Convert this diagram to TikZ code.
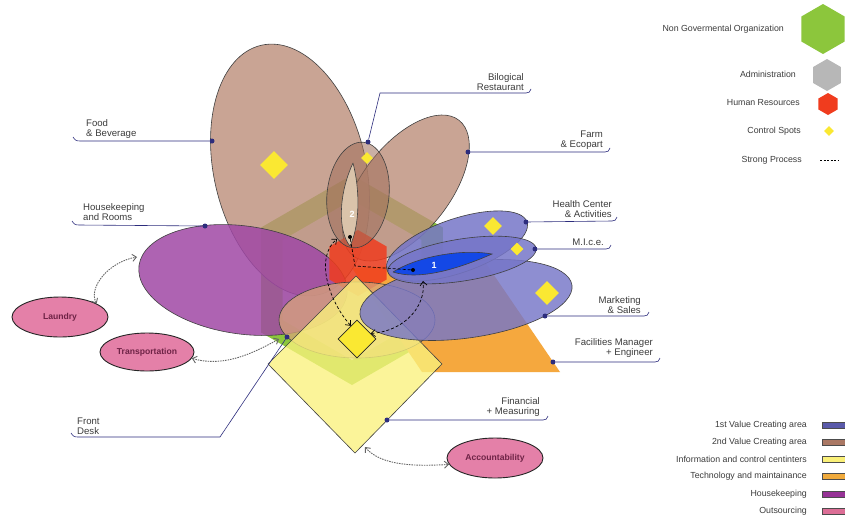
\documentclass[tikz,border=0pt]{standalone}
\usepackage{fontspec}
\setmainfont{Liberation Sans}
\usetikzlibrary{shapes.geometric,arrows.meta}
\definecolor{brownA}{RGB}{188,142,122}
\definecolor{brownB}{RGB}{160,110,90}
\definecolor{deskC}{RGB}{215,165,120}
\definecolor{ngo}{RGB}{140,198,60}
\definecolor{adm}{RGB}{215,215,215}
\definecolor{hr}{RGB}{240,60,30}
\definecolor{purp}{RGB}{160,72,165}
\definecolor{blueA}{RGB}{118,118,200}
\definecolor{lensblue}{RGB}{20,72,230}
\definecolor{lensbeige}{RGB}{218,195,170}
\definecolor{orng}{RGB}{245,168,62}
\definecolor{ylw}{RGB}{250,242,125}
\definecolor{spot}{RGB}{250,232,50}
\definecolor{pnk}{RGB}{228,128,168}
\definecolor{navy}{RGB}{45,45,125}
\definecolor{txt}{RGB}{60,60,60}
\definecolor{pinktxt}{RGB}{110,35,70}
\definecolor{swA}{RGB}{90,90,170}
\definecolor{swB}{RGB}{170,120,100}
\definecolor{swC}{RGB}{250,240,120}
\definecolor{swD}{RGB}{240,170,60}
\definecolor{swE}{RGB}{150,50,150}
\definecolor{swF}{RGB}{220,110,150}
\begin{document}
\begin{tikzpicture}[x=1pt,y=-1pt,
  outline/.style={draw=black!75, line width=0.6pt},
  leader/.style={draw=navy, line width=0.6pt},
  bdot/.style={circle, fill=navy, inner sep=0pt, minimum size=5pt},
  kdot/.style={circle, fill=black, inner sep=0pt, minimum size=4pt},
  lbl/.style={text=txt, font=\fontsize{9.6}{10}\selectfont, inner sep=0pt},
  lgd/.style={text=txt, font=\fontsize{8.8}{9}\selectfont, inner sep=0pt, anchor=east},
  spotd/.style={diamond, fill=spot, inner sep=0pt, aspect=1},
  outs/.style={ellipse, draw=black!85, line width=0.9pt, fill=pnk, inner sep=0pt, text=pinktxt, font=\fontsize{8.6}{9}\selectfont\bfseries},
  procarrow/.style={draw=black, line width=0.7pt, dash pattern=on 3pt off 2pt},
  linkarrow/.style={draw=black!60, line width=0.9pt, dash pattern=on 1.5pt off 1pt},
  barb/.style={{Straight Barb[length=4pt,width=7pt]}-{Straight Barb[length=4pt,width=7pt]}},
  swatch/.style={draw=black!70, line width=0.5pt, minimum width=24pt, minimum height=6pt, inner sep=0pt, anchor=west},
  numlbl/.style={text=white, font=\fontsize{9}{9}\selectfont\bfseries, inner sep=0pt}
]
\useasboundingbox (0,0) rectangle (845,520);
\fill[white] (0,0) rectangle (845,520);

% hexagons and sectors behind
\fill[ngo] (352,280) +(90:105) -- +(30:105) -- +(-30:105) -- +(-90:105) -- +(-150:105) -- +(150:105) -- cycle;
\fill[adm] (352,280) +(90:80) -- +(30:80) -- +(-30:80) -- +(-90:80) -- +(-150:80) -- +(150:80) -- cycle;
\fill[orng] (352,268) -- (485,262) -- (560,372) -- (422,372) -- cycle;

% 2nd value creating
\draw[outline, fill=brownA, fill opacity=.8, rotate around={13:(290,170)}] (290,170) ellipse [x radius=76, y radius=128];
% housekeeping
\draw[outline, fill=purp, fill opacity=.85, rotate around={-8:(243,280)}] (243,280) ellipse [x radius=105, y radius=54];
\draw[outline, fill=brownA, fill opacity=.8, rotate around={52:(406,188)}] (406,188) ellipse [x radius=86, y radius=44];
% human resources
\fill[hr, fill opacity=.85] (358,263) +(90:33) -- +(30:33) -- +(-30:33) -- +(-90:33) -- +(-150:33) -- +(150:33) -- cycle;
\draw[outline, fill=brownB, fill opacity=.55, rotate around={-6:(358,195)}] (358,195) ellipse [x radius=31, y radius=53];
\draw[outline, fill=lensbeige] (353,163) .. controls (338,195) and (338,232) .. (350,246) .. controls (360,225) and (360,190) .. (353,163);
% front desk
\draw[outline, fill=deskC, fill opacity=.75] (357,320) ellipse [x radius=78, y radius=38];
% financial diamond
\draw[outline, fill=ylw, fill opacity=.78] (356,276) -- (442,364) -- (355,453) -- (268,364) -- cycle;
% 1st value creating
\draw[outline, fill=blueA, fill opacity=.82, rotate around={8:(466,300)}] (466,300) ellipse [x radius=107, y radius=38];
\draw[outline, fill=blueA, fill opacity=.85, rotate around={19:(457,246)}] (457,246) ellipse [x radius=74, y radius=27];
\draw[outline, fill=blueA, fill opacity=.85, rotate around={9:(462,260)}] (462,260) ellipse [x radius=75, y radius=21];
\draw[outline, fill=lensblue] (393,272) .. controls (420,255) and (465,249) .. (492,254) .. controls (460,268) and (420,281) .. (393,272);

% control spots
\node[spotd, minimum size=28pt] (s1) at (274,165) {};
\node[spotd, minimum size=12pt] (s2) at (367,158) {};
\node[spotd, minimum size=18pt] (s3) at (493,226) {};
\node[spotd, minimum size=13pt] (s4) at (517,249) {};
\node[spotd, minimum size=24pt] (s5) at (547,293) {};
\node[spotd, draw=black!85, line width=0.8pt, minimum size=38pt] (cspot) at (357,339) {};

% lens labels and dots
\node[numlbl] (n2) at (352,214) {2};
\node[numlbl] (n1) at (434,265) {1};
\node[kdot] (dot2) at (350,237) {};
\node[kdot] (dot1) at (413,270) {};

% strong process
\coordinate (p1end) at (337,239);
\coordinate (p2end) at (423,281);
\coordinate (p3c) at (355,266);
\draw[procarrow, barb] (cspot.115) .. controls (328,300) and (315,257) .. (p1end);
\draw[procarrow, barb] (cspot.22) .. controls (405,331) and (426,306) .. (p2end);
\draw[procarrow] (dot2) -- (p3c) -- (dot1);

% outsourcing
\node[outs, minimum width=96pt, minimum height=40pt] (laundry) at (60,317) {Laundry};
\node[outs, minimum width=94pt, minimum height=38pt] (transp) at (147,352) {Transportation};
\node[outs, minimum width=96pt, minimum height=40pt] (acct) at (495,458) {Accountability};
\coordinate (hkend) at (137,257);
\coordinate (fdend) at (279,339);
\coordinate (finend) at (365,447);
\draw[linkarrow, barb] (laundry.20) .. controls (88,288) and (108,262) .. (hkend);
\draw[linkarrow, barb] (transp.-8) .. controls (225,368) and (255,352) .. (fdend);
\draw[linkarrow, barb] (finend) .. controls (382,467) and (420,466) .. (acct.188);

% leader dots
\node[bdot] (dFB) at (212,141) {};
\node[bdot] (dHK) at (205,226) {};
\node[bdot] (dBio) at (368,142) {};
\node[bdot] (dFarm) at (468,152) {};
\node[bdot] (dHealth) at (526,222) {};
\node[bdot] (dMice) at (535,249) {};
\node[bdot] (dMkt) at (545,316) {};
\node[bdot] (dFac) at (553,362) {};
\node[bdot] (dFin) at (387,420) {};
\node[bdot] (dFD) at (287,337) {};

% leaders
\draw[leader] (dFB) -- (80,141) .. controls (76,141) and (75,140) .. (73,137);
\draw[leader] (dHK) -- (79,225) .. controls (75,225) and (74,224) .. (72,221);
\draw[leader] (dBio) -- (380,93) -- (526,93) .. controls (529,93) and (530,92) .. (531,89);
\draw[leader] (dFarm) -- (605,152) .. controls (608,152) and (609,151) .. (610,148);
\draw[leader] (dHealth) -- (612,221) .. controls (615,221) and (616,220) .. (617,217);
\draw[leader] (dMice) -- (606,249) .. controls (609,249) and (610,248) .. (611,245);
\draw[leader] (dMkt) -- (644,316) .. controls (647,316) and (648,315) .. (649,312);
\draw[leader] (dFac) -- (655,362) .. controls (658,362) and (659,361) .. (660,358);
\draw[leader] (dFin) -- (543,420) .. controls (546,420) and (547,419) .. (548,416);
\draw[leader] (dFD) -- (220,437) -- (78,437) .. controls (74,437) and (73,436) .. (71,433);

% labels
\node[lbl, align=left, anchor=south west] (tFB) at (86,139) {Food\\\& Beverage};
\node[lbl, align=left, anchor=south west] (tHK) at (83,221) {Housekeeping\\and Rooms};
\node[lbl, align=right, anchor=south east] (tBio) at (524,91) {Bilogical\\Restaurant};
\node[lbl, align=right, anchor=south east] (tFarm) at (603,150) {Farm\\\& Ecopart};
\node[lbl, align=right, anchor=south east] (tHealth) at (612,218) {Health Center\\\& Activities};
\node[lbl, align=right, anchor=south east] (tMice) at (604,246) {M.I.c.e.};
\node[lbl, align=right, anchor=south east] (tMkt) at (641,314) {Marketing\\\& Sales};
\node[lbl, align=right, anchor=south east] (tFac) at (653,358) {Facilities Manager\\+ Engineer};
\node[lbl, align=right, anchor=south east] (tFin) at (540,417) {Financial\\+ Measuring};
\node[lbl, align=left, anchor=south west] (tFD) at (77,435) {Front\\Desk};

% top legend
\node[lgd] (lNGO) at (784,29) {Non Govermental Organization};
\fill[ngo] (823,29) +(90:25) -- +(30:25) -- +(-30:25) -- +(-90:25) -- +(-150:25) -- +(150:25) -- cycle;
\node[lgd] (lAdm) at (796,74) {Administration};
\fill[adm!85!black] (827,75) +(90:16) -- +(30:16) -- +(-30:16) -- +(-90:16) -- +(-150:16) -- +(150:16) -- cycle;
\node[lgd] (lHR) at (800,103) {Human Resources};
\fill[hr] (828,104) +(90:11) -- +(30:11) -- +(-30:11) -- +(-90:11) -- +(-150:11) -- +(150:11) -- cycle;
\node[lgd] (lCS) at (801,131) {Control Spots};
\node[spotd, minimum size=10pt] (lgspot) at (829,131) {};
\node[lgd] (lSP) at (802,160) {Strong Process};
\coordinate (spa) at (820,160);
\coordinate (spb) at (839,160);
\draw[draw=black, line width=0.7pt, dash pattern=on 2pt off 1.5pt] (spa) -- (spb);

% bottom legend
\node[lgd] (b1) at (807,425) {1st Value Creating area};
\node[swatch, fill=swA] (w1) at (822,425) {};
\node[lgd] (b2) at (807,442) {2nd Value Creating area};
\node[swatch, fill=swB] (w2) at (822,442) {};
\node[lgd] (b3) at (807,459) {Information and control centinters};
\node[swatch, fill=swC] (w3) at (822,459) {};
\node[lgd] (b4) at (807,476) {Technology and maintainance};
\node[swatch, fill=swD] (w4) at (822,476) {};
\node[lgd] (b5) at (807,494) {Housekeeping};
\node[swatch, fill=swE] (w5) at (822,494) {};
\node[lgd] (b6) at (807,511) {Outsourcing};
\node[swatch, fill=swF] (w6) at (822,511) {};
\end{tikzpicture}
\end{document}
